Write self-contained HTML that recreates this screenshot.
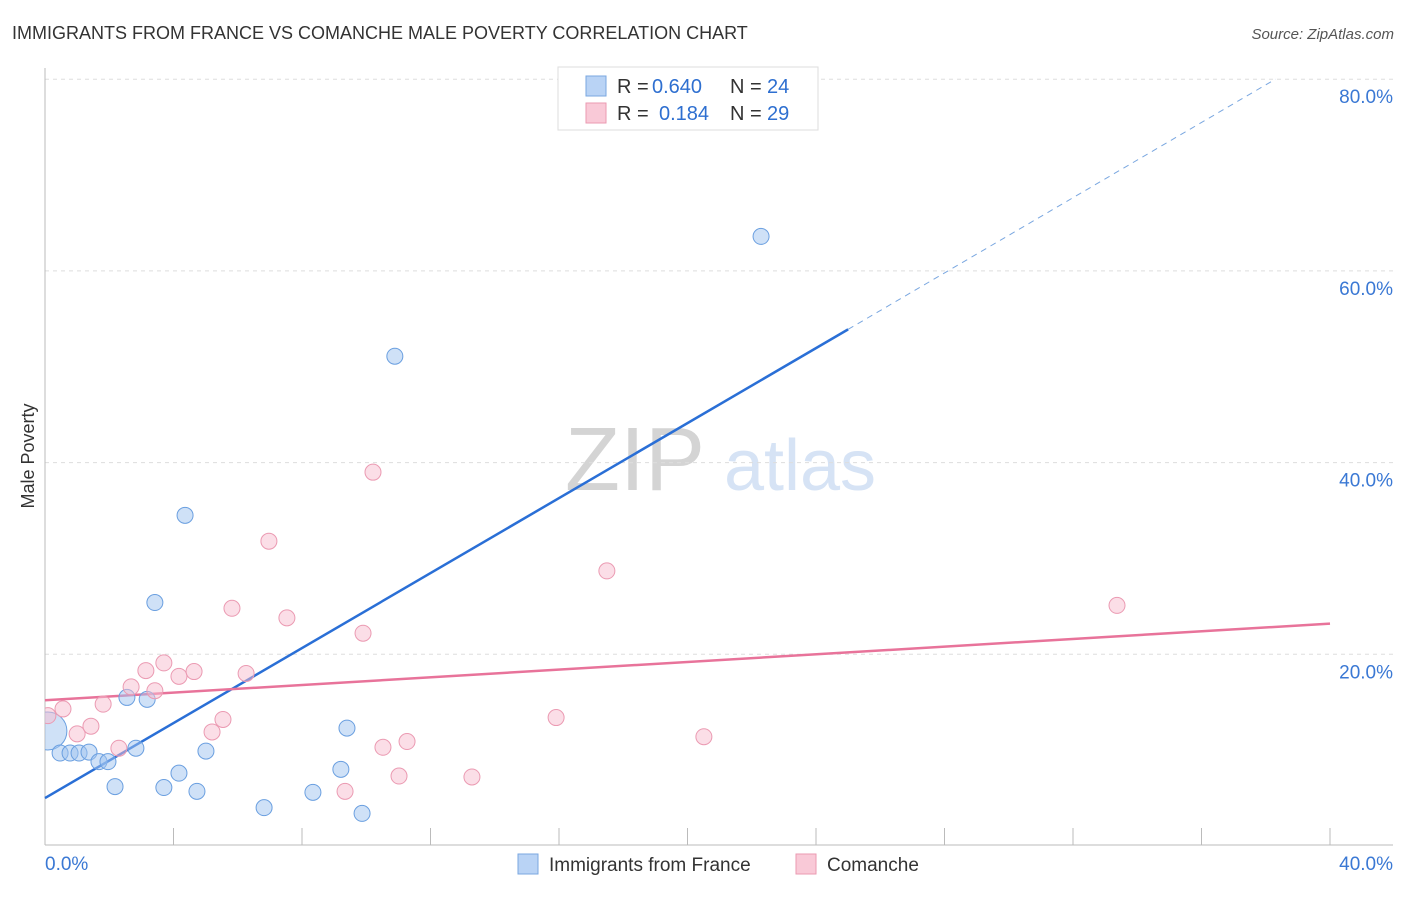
<!DOCTYPE html>
<html><head><meta charset="utf-8"><style>
body{margin:0;background:#fff;font-family:"Liberation Sans",sans-serif;}
svg text{font-family:"Liberation Sans",sans-serif;}
</style></head><body>
<svg id="c" width="1406" height="892" xmlns="http://www.w3.org/2000/svg">
<defs><clipPath id="plot"><rect x="45" y="60" width="1360" height="785"/></clipPath></defs>
<text x="12" y="39" font-size="18" fill="#333">IMMIGRANTS FROM FRANCE VS COMANCHE MALE POVERTY CORRELATION CHART</text>
<text x="1394" y="39" font-size="15" fill="#555" text-anchor="end" font-style="italic">Source: ZipAtlas.com</text>
<text x="34" y="456" font-size="18" fill="#333" text-anchor="middle" transform="rotate(-90 34 456)">Male Poverty</text>
<g><text x="635" y="490" font-size="90" fill="#d4d4d4" text-anchor="middle" font-family="Liberation Serif">ZIP</text><text x="800" y="490" font-size="72" fill="#d6e3f5" text-anchor="middle">atlas</text></g>
<g id="grid"></g><g id="axes"></g><g id="lines"></g><g id="pts" clip-path="url(#plot)"></g>
<g>
<rect x="558" y="67" width="260" height="63" fill="#fff" stroke="#ddd"/>
<rect x="586" y="76" width="20" height="20" fill="#b9d3f5" stroke="#7aa7e0"/>
<rect x="586" y="103" width="20" height="20" fill="#f9c9d7" stroke="#eb9ab2"/>
<text x="617" y="93" font-size="20" fill="#333">R =</text>
<text x="652" y="93" font-size="20" fill="#2e6fd0">0.640</text>
<text x="730" y="93" font-size="20" fill="#333">N =</text>
<text x="767" y="93" font-size="20" fill="#2e6fd0">24</text>
<text x="617" y="120" font-size="20" fill="#333">R =</text>
<text x="659" y="120" font-size="20" fill="#2e6fd0">0.184</text>
<text x="730" y="120" font-size="20" fill="#333">N =</text>
<text x="767" y="120" font-size="20" fill="#2e6fd0">29</text>
</g>
<g>
<rect x="518" y="854" width="20" height="20" fill="#b9d3f5" stroke="#7aa7e0"/>
<text x="549" y="871" font-size="19" fill="#333">Immigrants from France</text>
<rect x="796" y="854" width="20" height="20" fill="#f9c9d7" stroke="#eb9ab2"/>
<text x="827" y="871" font-size="19" fill="#333">Comanche</text>
</g>
</svg>
<script>
const blueX=[0.09,0.47,0.78,1.06,1.37,1.68,1.96,2.18,2.55,2.83,3.18,3.42,3.70,4.17,4.36,4.73,5.01,6.82,8.34,9.21,9.40,9.87,10.89,22.29];
const blueY=[12.0,9.7,9.7,9.7,9.8,8.8,8.8,6.2,15.5,10.2,15.3,25.4,6.1,7.6,34.5,5.7,9.9,4.0,5.6,8.0,12.3,3.4,51.1,63.6];
const pinkX=[0.09,0.56,1.00,1.43,1.81,2.30,2.68,3.14,3.42,3.70,4.17,4.64,5.20,5.54,5.82,6.26,6.97,7.53,9.34,9.90,10.21,10.52,11.02,11.27,13.29,15.91,17.49,20.51,33.37];
const pinkY=[13.6,14.3,11.7,12.5,14.8,10.2,16.6,18.3,16.2,19.1,17.7,18.2,11.9,13.2,24.8,18.0,31.8,23.8,5.7,22.2,39.0,10.3,7.3,10.9,7.2,13.4,28.7,11.4,25.1];
const yTicks=[20,40,60,80];
const yTickLabels=["20.0%","40.0%","60.0%","80.0%"];
const xTickVals=[0,4,8,12,16,20,24,28,32,36,40];
const blueLine=[0,5.0,25,53.9,38.3,80];
const pinkLine=[0,15.2,40,23.2];
const X=v=>45+v*32.125, Y=v=>846-v*9.585;
const NS="http://www.w3.org/2000/svg";
function mk(p,t,a){const e=document.createElementNS(NS,t);for(const k in a)e.setAttribute(k,a[k]);document.getElementById(p).appendChild(e);return e;}
yTicks.forEach((v,i)=>{
 const l=mk('grid','line',{x1:45,x2:1393,y1:Y(v),y2:Y(v),stroke:'#ddd','stroke-dasharray':'4,4'});
 
 
 const t=mk('grid','text',{x:1393,y:Y(v)+24,'font-size':19,fill:'#3a78d4','text-anchor':'end'});
 t.textContent=yTickLabels[i];
 
 
});
let a=mk('axes','line',{x1:45,x2:45,y1:68,y2:845,stroke:'#bbb'});


a=mk('axes','line',{x1:45,x2:1393,y1:845,y2:845,stroke:'#bbb'});


xTickVals.forEach(v=>{const t=mk('axes','line',{x1:X(v),x2:X(v),y1:828,y2:845,stroke:'#bbb'});
 
 });
let t=mk('axes','text',{x:45,y:870,'font-size':19,fill:'#3a78d4'});t.textContent='0.0%';


t=mk('axes','text',{x:1393,y:870,'font-size':19,fill:'#3a78d4','text-anchor':'end'});t.textContent='40.0%';


blueX.forEach((x,i)=>{const c=mk('pts','circle',{cx:X(x),cy:Y(blueY[i]),r:i==0?19:8,fill:'rgba(160,196,240,0.5)',stroke:'#6a9fe0','stroke-width':1});
 
 });
pinkX.forEach((x,i)=>{const c=mk('pts','circle',{cx:X(x),cy:Y(pinkY[i]),r:8,fill:'rgba(248,190,208,0.5)',stroke:'#eb9ab2','stroke-width':1});
 
 });
let L=mk('lines','line',{x1:X(blueLine[0]),y1:Y(blueLine[1]),x2:X(blueLine[2]),y2:Y(blueLine[3]),stroke:'#2a6fd6','stroke-width':2.5});


L=mk('lines','line',{x1:X(blueLine[2]),y1:Y(blueLine[3]),x2:X(blueLine[4]),y2:Y(blueLine[5]),stroke:'#7aa7e0','stroke-width':1,'stroke-dasharray':'6,5'});


L=mk('lines','line',{x1:X(pinkLine[0]),y1:Y(pinkLine[1]),x2:X(pinkLine[2]),y2:Y(pinkLine[3]),stroke:'#e8739a','stroke-width':2.5});


</script>
</body></html>
